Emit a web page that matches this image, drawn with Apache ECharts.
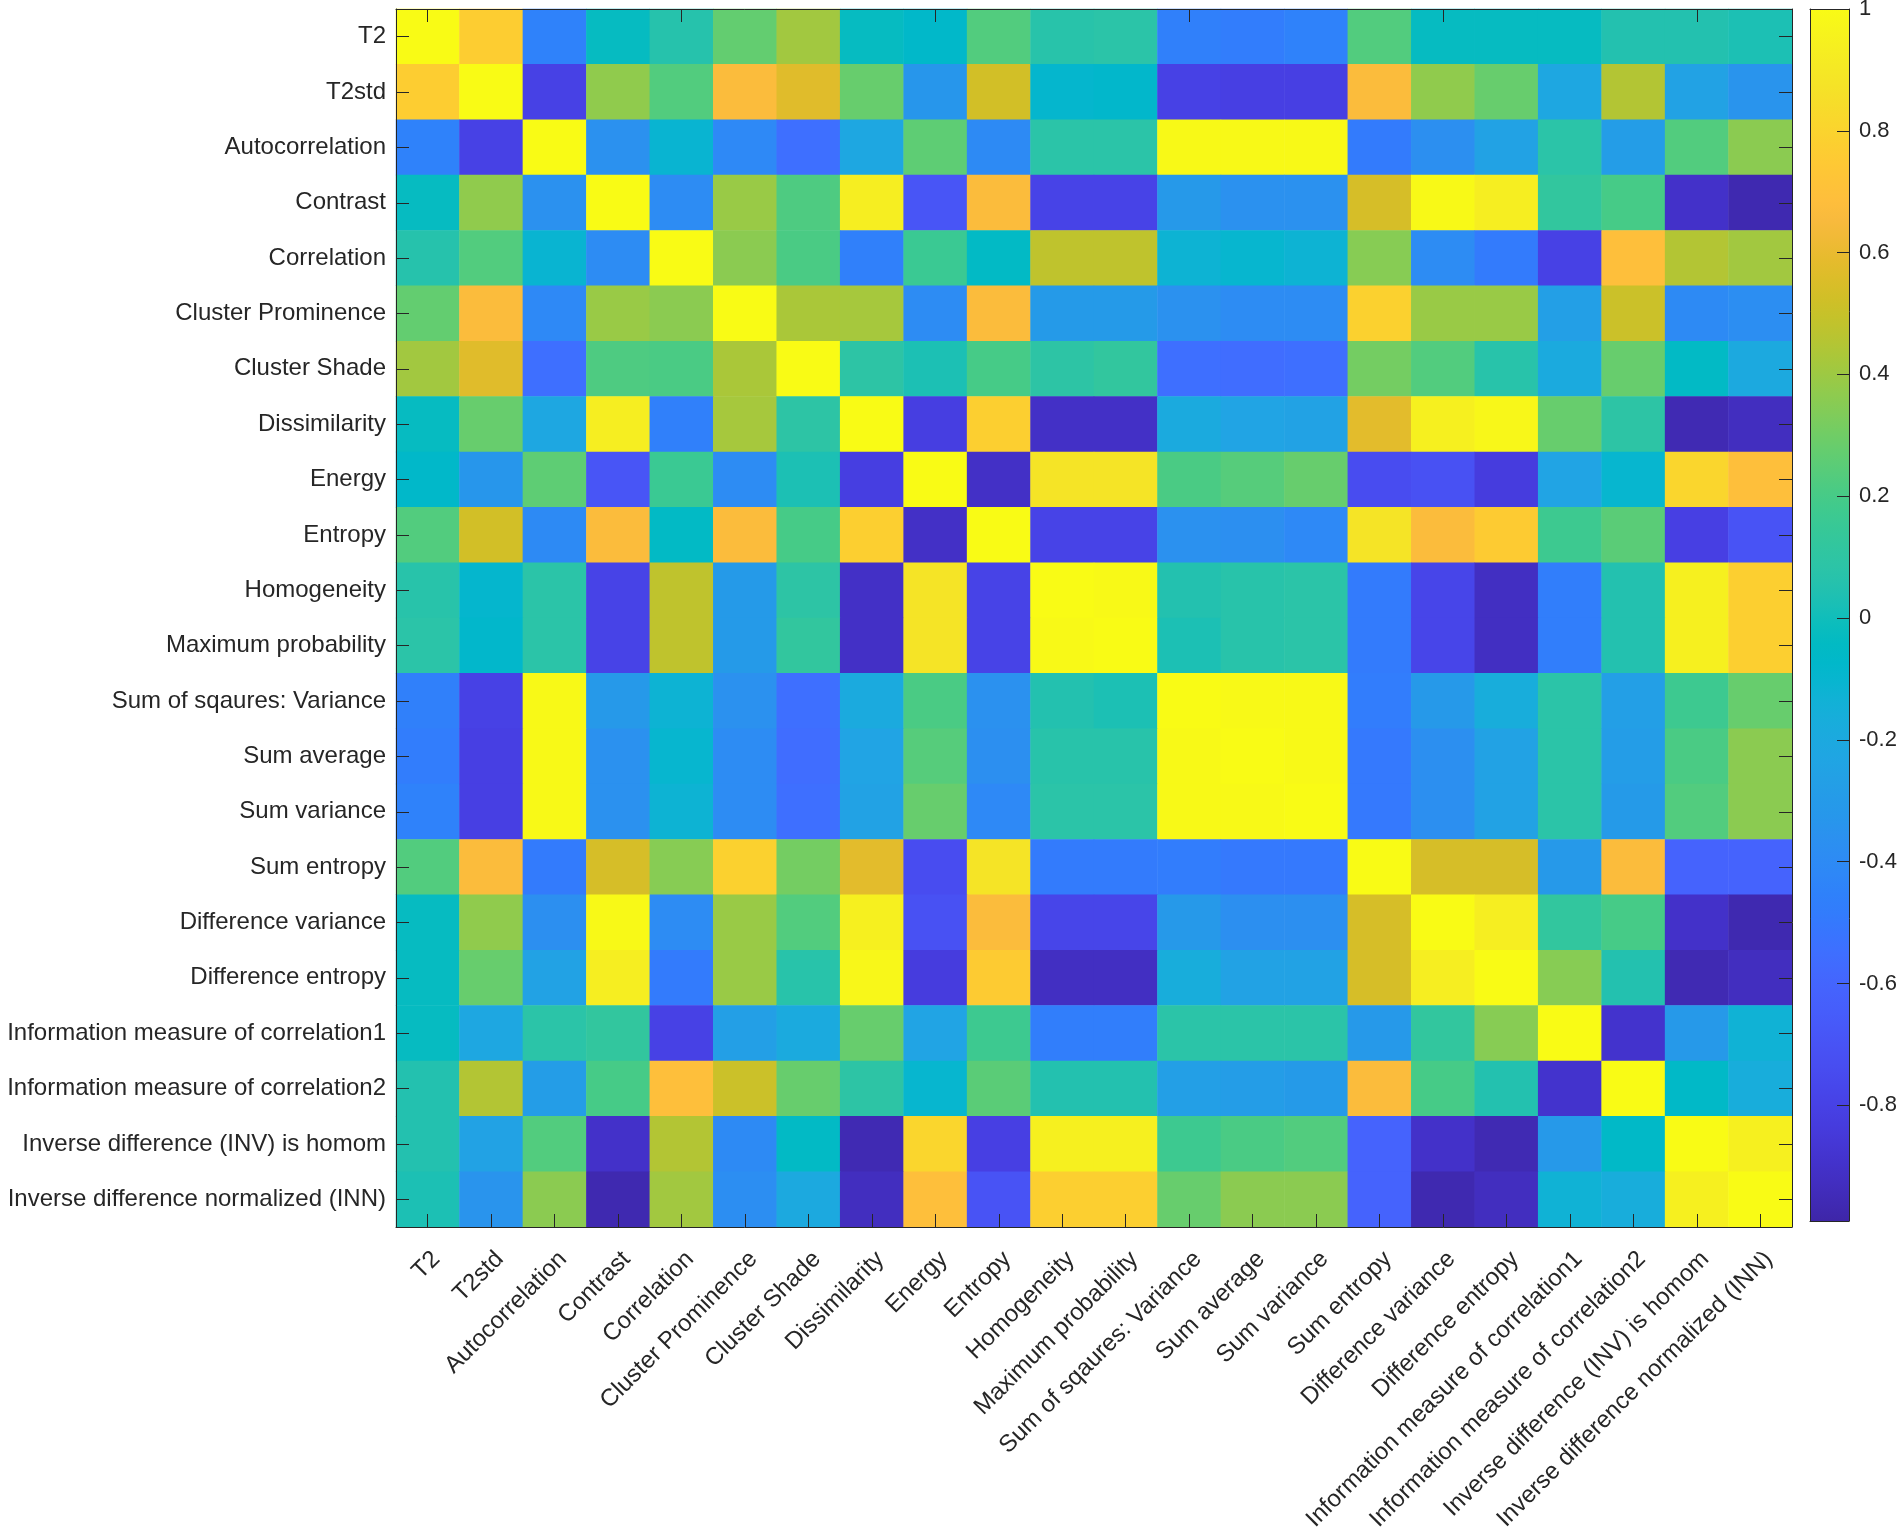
<!DOCTYPE html>
<html>
<head>
<meta charset="utf-8">
<script src="https://cdn.jsdelivr.net/npm/echarts@6.0.0/dist/echarts.min.js"></script>
<style>
html,body{margin:0;padding:0;background:#fff;}
#chart{width:1902px;height:1529px;}
</style>
</head>
<body>
<div id="chart"></div>
<script>
// ---------- data ----------
var labels = [
  'T2', 'T2std', 'Autocorrelation', 'Contrast', 'Correlation', 'Cluster Prominence',
  'Cluster Shade', 'Dissimilarity', 'Energy', 'Entropy', 'Homogeneity', 'Maximum probability',
  'Sum of sqaures: Variance', 'Sum average', 'Sum variance', 'Sum entropy',
  'Difference variance', 'Difference entropy', 'Information measure of correlation1',
  'Information measure of correlation2', 'Inverse difference (INV) is homom',
  'Inverse difference normalized (INN)'
];

var corr = [
  [1, 0.77, -0.45, -0.03, 0.06, 0.27, 0.41, -0.03, -0.07, 0.23, 0.07, 0.08, -0.46, -0.48, -0.45, 0.23, -0.03, -0.03, -0.03, 0.05, 0.05, 0.03],
  [0.77, 1, -0.80, 0.37, 0.23, 0.67, 0.57, 0.28, -0.33, 0.53, -0.09, -0.08, -0.80, -0.81, -0.81, 0.67, 0.37, 0.28, -0.22, 0.45, -0.25, -0.34],
  [-0.45, -0.80, 1, -0.36, -0.11, -0.41, -0.55, -0.22, 0.26, -0.40, 0.08, 0.08, 0.99, 0.99, 0.99, -0.49, -0.37, -0.25, 0.08, -0.28, 0.23, 0.36],
  [-0.03, 0.37, -0.36, 1, -0.39, 0.39, 0.22, 0.93, -0.69, 0.67, -0.79, -0.79, -0.31, -0.36, -0.36, 0.54, 0.99, 0.93, 0.12, 0.20, -0.90, -0.97],
  [0.06, 0.23, -0.11, -0.39, 1, 0.36, 0.21, -0.46, 0.16, -0.05, 0.48, 0.48, -0.12, -0.10, -0.12, 0.35, -0.39, -0.49, -0.80, 0.69, 0.45, 0.41],
  [0.27, 0.67, -0.41, 0.39, 0.36, 1, 0.43, 0.42, -0.39, 0.67, -0.30, -0.30, -0.36, -0.39, -0.39, 0.79, 0.39, 0.39, -0.27, 0.51, -0.40, -0.38],
  [0.41, 0.57, -0.55, 0.22, 0.21, 0.43, 1, 0.09, 0.03, 0.20, 0.09, 0.12, -0.55, -0.56, -0.55, 0.31, 0.23, 0.07, -0.19, 0.28, -0.05, -0.20],
  [-0.03, 0.28, -0.22, 0.93, -0.46, 0.42, 0.09, 1, -0.82, 0.78, -0.91, -0.91, -0.19, -0.24, -0.25, 0.58, 0.94, 0.98, 0.28, 0.09, -0.96, -0.93],
  [-0.07, -0.33, 0.26, -0.69, 0.16, -0.39, 0.03, -0.82, 1, -0.91, 0.88, 0.88, 0.21, 0.24, 0.28, -0.74, -0.71, -0.83, -0.24, -0.10, 0.81, 0.69],
  [0.23, 0.53, -0.40, 0.67, -0.05, 0.67, 0.20, 0.78, -0.91, 1, -0.79, -0.79, -0.36, -0.37, -0.41, 0.88, 0.67, 0.76, 0.17, 0.25, -0.81, -0.70],
  [0.07, -0.09, 0.08, -0.79, 0.48, -0.30, 0.09, -0.91, 0.88, -0.79, 1, 0.99, 0.05, 0.07, 0.08, -0.49, -0.78, -0.92, -0.47, 0.05, 0.94, 0.78],
  [0.08, -0.08, 0.08, -0.79, 0.48, -0.30, 0.12, -0.91, 0.88, -0.79, 0.99, 1, 0.03, 0.07, 0.08, -0.49, -0.78, -0.92, -0.47, 0.05, 0.94, 0.78],
  [-0.46, -0.80, 0.99, -0.31, -0.12, -0.36, -0.55, -0.19, 0.21, -0.36, 0.05, 0.03, 1, 0.99, 0.99, -0.48, -0.31, -0.17, 0.08, -0.27, 0.17, 0.28],
  [-0.48, -0.81, 0.99, -0.36, -0.10, -0.39, -0.56, -0.24, 0.24, -0.37, 0.07, 0.07, 0.99, 1, 0.99, -0.50, -0.37, -0.25, 0.08, -0.28, 0.21, 0.36],
  [-0.45, -0.81, 0.99, -0.36, -0.12, -0.39, -0.55, -0.25, 0.28, -0.41, 0.08, 0.08, 0.99, 0.99, 1, -0.50, -0.37, -0.25, 0.08, -0.30, 0.23, 0.36],
  [0.23, 0.67, -0.49, 0.54, 0.35, 0.79, 0.31, 0.58, -0.74, 0.88, -0.49, -0.49, -0.48, -0.50, -0.50, 1, 0.54, 0.54, -0.31, 0.67, -0.61, -0.61],
  [-0.03, 0.37, -0.37, 0.99, -0.39, 0.39, 0.23, 0.94, -0.71, 0.67, -0.78, -0.78, -0.31, -0.37, -0.37, 0.54, 1, 0.93, 0.12, 0.20, -0.90, -0.97],
  [-0.03, 0.28, -0.25, 0.93, -0.49, 0.39, 0.07, 0.98, -0.83, 0.76, -0.92, -0.92, -0.17, -0.25, -0.25, 0.54, 0.93, 1, 0.35, 0.05, -0.96, -0.93],
  [-0.03, -0.22, 0.08, 0.12, -0.80, -0.27, -0.19, 0.28, -0.24, 0.17, -0.47, -0.47, 0.08, 0.08, 0.08, -0.31, 0.12, 0.35, 1, -0.89, -0.31, -0.13],
  [0.05, 0.45, -0.28, 0.20, 0.69, 0.51, 0.28, 0.09, -0.10, 0.25, 0.05, 0.05, -0.27, -0.28, -0.30, 0.67, 0.20, 0.05, -0.89, 1, -0.06, -0.17],
  [0.05, -0.25, 0.23, -0.90, 0.45, -0.40, -0.05, -0.96, 0.81, -0.81, 0.94, 0.94, 0.17, 0.21, 0.23, -0.61, -0.90, -0.96, -0.31, -0.06, 1, 0.94],
  [0.03, -0.34, 0.36, -0.97, 0.41, -0.38, -0.20, -0.93, 0.69, -0.70, 0.78, 0.78, 0.28, 0.36, 0.36, -0.61, -0.97, -0.93, -0.13, -0.17, 0.94, 1]
];

var colorbarMin = -0.99;
var colorbarMax = 1;
var colorbarTicks = [-0.8, -0.6, -0.4, -0.2, 0, 0.2, 0.4, 0.6, 0.8, 1];

// ---------- style: parula colormap ----------
var parula = [
[0.2422,0.1504,0.6603],[0.2504,0.1650,0.7076],[0.2578,0.1818,0.7511],[0.2647,0.1978,0.7952],
[0.2706,0.2147,0.8364],[0.2751,0.2342,0.8710],[0.2783,0.2559,0.8991],[0.2803,0.2782,0.9221],
[0.2813,0.3006,0.9414],[0.2810,0.3228,0.9579],[0.2795,0.3447,0.9717],[0.2760,0.3667,0.9829],
[0.2699,0.3892,0.9906],[0.2602,0.4123,0.9952],[0.2440,0.4358,0.9988],[0.2206,0.4603,0.9973],
[0.1963,0.4847,0.9892],[0.1834,0.5074,0.9798],[0.1786,0.5289,0.9682],[0.1764,0.5499,0.9520],
[0.1687,0.5703,0.9359],[0.1540,0.5902,0.9218],[0.1460,0.6091,0.9079],[0.1380,0.6276,0.8973],
[0.1248,0.6459,0.8883],[0.1113,0.6635,0.8763],[0.0952,0.6798,0.8598],[0.0689,0.6948,0.8394],
[0.0297,0.7082,0.8163],[0.0036,0.7203,0.7917],[0.0067,0.7312,0.7660],[0.0433,0.7411,0.7394],
[0.0964,0.7500,0.7120],[0.1408,0.7584,0.6842],[0.1717,0.7670,0.6554],[0.1938,0.7758,0.6251],
[0.2161,0.7843,0.5923],[0.2470,0.7918,0.5567],[0.2906,0.7973,0.5188],[0.3406,0.8008,0.4789],
[0.3909,0.8029,0.4354],[0.4456,0.8024,0.3909],[0.5044,0.7993,0.3480],[0.5616,0.7942,0.3045],
[0.6174,0.7876,0.2612],[0.6720,0.7793,0.2227],[0.7242,0.7698,0.1910],[0.7738,0.7598,0.1646],
[0.8203,0.7498,0.1535],[0.8634,0.7406,0.1596],[0.9035,0.7330,0.1774],[0.9393,0.7288,0.2100],
[0.9728,0.7298,0.2394],[0.9956,0.7434,0.2371],[0.9970,0.7659,0.2199],[0.9952,0.7893,0.2028],
[0.9892,0.8136,0.1885],[0.9786,0.8386,0.1766],[0.9676,0.8639,0.1643],[0.9610,0.8890,0.1537],
[0.9597,0.9135,0.1423],[0.9628,0.9373,0.1265],[0.9691,0.9606,0.1064],[0.9769,0.9839,0.0805]
].map(function (c) {
  return 'rgb(' + Math.round(c[0] * 255) + ',' + Math.round(c[1] * 255) + ',' + Math.round(c[2] * 255) + ')';
});

var FONT = "'Liberation Sans', Arial, Helvetica, sans-serif";
var AX = '#262626';

var heatData = [];
for (var r = 0; r < corr.length; r++) {
  for (var c = 0; c < corr[r].length; c++) {
    heatData.push([c, r, corr[r][c]]);
  }
}

var gradStops = parula.map(function (col, i) {
  return { offset: i / (parula.length - 1), color: col };
});

var chart = echarts.init(document.getElementById('chart'), null, { renderer: 'canvas' });

var tickStyle = { show: true, inside: true, alignWithLabel: true, length: 13, lineStyle: { color: AX, width: 1 } };
var lineStyle = { show: true, onZero: false, lineStyle: { color: AX, width: 1 } };

chart.setOption({
  animation: false,
  backgroundColor: '#ffffff',
  grid: [
    { left: 396, top: 9, width: 1396, height: 1218, outerBoundsMode: 'none', containLabel: false },
    { left: 1810, top: 9, width: 39, height: 1212, outerBoundsMode: 'none', containLabel: false }
  ],
  xAxis: [
    {
      gridIndex: 0, type: 'category', data: labels, position: 'bottom', z: 10,
      axisLine: lineStyle, axisTick: tickStyle, splitLine: { show: false },
      axisLabel: { interval: 0, rotate: 45, margin: 20, verticalAlign: 'top', fontSize: 24, color: AX, fontFamily: FONT, hideOverlap: false }
    },
    {
      gridIndex: 0, type: 'category', data: labels, position: 'top', z: 10,
      axisLine: lineStyle, axisTick: tickStyle, axisLabel: { show: false }, splitLine: { show: false }
    },
    {
      gridIndex: 1, type: 'category', data: ['cb'], position: 'bottom', z: 10,
      axisLine: lineStyle, axisTick: { show: false }, axisLabel: { show: false }, splitLine: { show: false }
    },
    {
      gridIndex: 1, type: 'category', data: ['cb'], position: 'top', z: 10,
      axisLine: lineStyle, axisTick: { show: false }, axisLabel: { show: false }, splitLine: { show: false }
    }
  ],
  yAxis: [
    {
      gridIndex: 0, type: 'category', data: labels, inverse: true, position: 'left', z: 10,
      axisLine: lineStyle, axisTick: tickStyle, splitLine: { show: false },
      axisLabel: { interval: 0, margin: 10, fontSize: 24, color: AX, fontFamily: FONT, hideOverlap: false }
    },
    {
      gridIndex: 0, type: 'category', data: labels, inverse: true, position: 'right', z: 10,
      axisLine: lineStyle, axisTick: tickStyle, axisLabel: { show: false }, splitLine: { show: false }
    },
    {
      gridIndex: 1, type: 'value', min: colorbarMin, max: colorbarMax, position: 'right', z: 10,
      axisLine: lineStyle,
      axisTick: { show: true, inside: true, length: 12, lineStyle: { color: AX, width: 1 }, customValues: colorbarTicks },
      axisLabel: { show: true, margin: 10, fontSize: 22, color: AX, fontFamily: FONT, customValues: colorbarTicks,
        formatter: function (v) { return String(Math.round(v * 10) / 10); } },
      splitLine: { show: false }
    },
    {
      gridIndex: 1, type: 'value', min: colorbarMin, max: colorbarMax, position: 'left', z: 10,
      axisLine: lineStyle, axisTick: { show: false }, axisLabel: { show: false }, splitLine: { show: false }
    }
  ],
  visualMap: {
    type: 'continuous', show: false, seriesIndex: 0,
    min: colorbarMin, max: colorbarMax, dimension: 2,
    inRange: { color: parula }
  },
  series: [
    {
      type: 'heatmap', xAxisIndex: 0, yAxisIndex: 0, data: heatData,
      itemStyle: { borderWidth: 0 },
      emphasis: { disabled: true }
    },
    {
      type: 'custom', xAxisIndex: 2, yAxisIndex: 2, data: [[0, colorbarMax]],
      silent: true,
      renderItem: function (params, api) {
        var pTop = api.coord([0, colorbarMax]);
        var pBot = api.coord([0, colorbarMin]);
        var w = api.size([1, 0])[0];
        return {
          type: 'rect',
          shape: { x: pTop[0] - w / 2, y: pTop[1], width: w, height: pBot[1] - pTop[1] },
          style: { fill: { type: 'linear', x: 0, y: 1, x2: 0, y2: 0, colorStops: gradStops } }
        };
      }
    }
  ]
});
</script>
</body>
</html>
